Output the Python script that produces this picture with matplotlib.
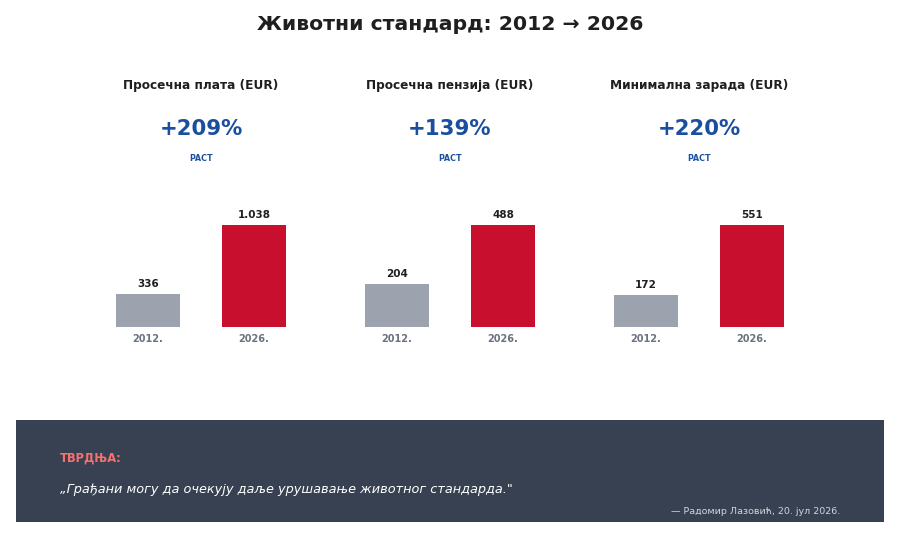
import matplotlib
matplotlib.use("Agg")
import matplotlib.pyplot as plt

# data
panel_titles = ["Просечна плата (EUR)", "Просечна пензија (EUR)", "Минимална зарада (EUR)"]
years = ["2012.", "2026."]
vals_2012 = [336, 204, 172]
vals_2026 = [1038, 488, 551]

claim_label = "ТВРДЊА:"
claim_text = "„Грађани могу да очекују даље урушавање животног стандарда.\""
claim_source = "— Радомир Лазовић, 20. јул 2026."

W, H = 900, 539
fig = plt.figure(figsize=(9, 5.39), dpi=100)
fig.patch.set_facecolor("white")

blue = "#1a4f9f"
red = "#c8102e"
grey = "#9ca3af"

def fmt(v):
    return f"{v:,}".replace(",", ".")

fig.text(0.5, 1 - 25 / H, "Животни стандард: 2012 → 2026", ha="center", va="center",
         fontsize=14.7, fontweight="bold", color="#1f1f1f")

unit = 106.0
left0 = [148, 397, 646]
for i in range(3):
    x0 = left0[i] - 0.8 * unit
    ax = fig.add_axes([x0 / W, 212 / H, 2.6 * unit / W, 102 / H])
    vmax = max(vals_2012[i], vals_2026[i])
    vs = [vals_2012[i], vals_2026[i]]
    ax.bar([0, 1], vs, width=0.604, color=[grey, red])
    ax.set_xlim(-0.8, 1.8)
    ax.set_ylim(0, vmax)
    for x, v in zip([0, 1], vs):
        ax.annotate(fmt(v), (x, v), xytext=(0, 3.5), textcoords="offset points",
                    ha="center", va="bottom", fontsize=7.5, fontweight="bold",
                    color="#1f1f1f", annotation_clip=False)
    ax.set_xticks([0, 1])
    ax.set_xticklabels(years, fontsize=7, fontweight="bold", color="#6b7280")
    ax.tick_params(axis="x", length=0, pad=5)
    ax.set_yticks([])
    for s in ax.spines.values():
        s.set_visible(False)
    ax.patch.set_alpha(0)

    cx = (left0[i] + 0.5 * unit) / W
    growth = (vals_2026[i] / vals_2012[i] - 1) * 100
    fig.text(cx, 1 - 85 / H, panel_titles[i], ha="center", va="center",
             fontsize=8.7, fontweight="bold", color="#1f1f1f")
    fig.text(cx, 1 - 129 / H, f"+{growth:.0f}%", ha="center", va="center",
             fontsize=15.3, fontweight="bold", color=blue)
    fig.text(cx, 1 - 159 / H, "РАСТ", ha="center", va="center",
             fontsize=5.8, fontweight="bold", color=blue)

# claim box
bx = fig.add_axes([16 / W, (H - 522) / H, 868 / W, 102 / H])
bx.set_facecolor("#374151")
bx.set_xticks([])
bx.set_yticks([])
for s in bx.spines.values():
    s.set_visible(False)

fig.text(60 / W, 1 - 458 / H, claim_label, ha="left", va="center",
         fontsize=8.3, fontweight="bold", color="#f87171")
fig.text(60 / W, 1 - 489 / H, claim_text, ha="left", va="center",
         fontsize=9.3, style="italic", color="white")
fig.text(840 / W, 1 - 511 / H, claim_source, ha="right", va="center",
         fontsize=6.8, color="#d1d5db")

fig.savefig("out.png", dpi=100)
